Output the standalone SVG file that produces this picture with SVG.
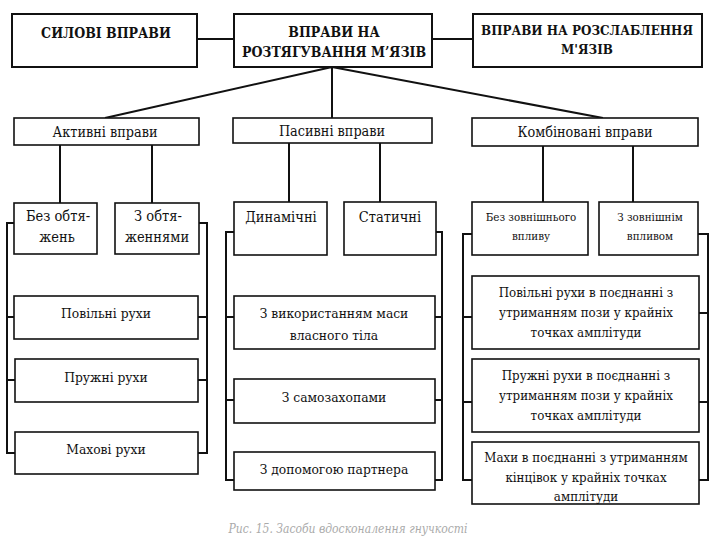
<svg xmlns="http://www.w3.org/2000/svg" width="720" height="540" viewBox="0 0 720 540">
<style>
.bx{fill:#fff;stroke:#111;stroke-width:1.6}
.tb{fill:#fff;stroke:#111;stroke-width:2}
.ln{fill:none;stroke:#111;stroke-width:2}
text{font-family:"DejaVu Serif Condensed","DejaVu Serif",serif;font-stretch:condensed;fill:#111;text-anchor:middle}
.h{font-weight:bold;font-size:14px}
.h2{font-weight:bold;font-size:13.3px}
.m{font-size:14.3px}
.p{font-size:13.7px}
.s{font-size:14.5px}
.k{font-size:13.2px}
.xs{font-size:11.5px}
.c{font-size:12px;font-style:italic;fill:#aaa}
</style>
<rect width="720" height="540" fill="#fff"/>
<g id="connectors">
<path class="ln" d="M197,39 H234 M432,39 H473"/>
<path class="ln" d="M332,67 L105,118 M332,67 V118 M332,67 L603,118"/>
<path class="ln" d="M60,145 V203 M152,145 V203 M289,143 V202 M380,143 V202 M543,146 V202 M633,146 V202"/>
<path class="ln" d="M14,223 H7 V453 H15 M7,317 H14 M7,380 H15"/>
<path class="ln" d="M199,223 H207 V453 H198 M207,317 H198 M207,380 H198"/>
<path class="ln" d="M234,232 H226 V480 H234 M226,317 H234 M226,400 H234"/>
<path class="ln" d="M436,232 H442 V480 H435 M442,317 H435 M442,400 H435"/>
<path class="ln" d="M472,234 H463 V480 H472 M463,317 H472 M463,402 H472"/>
<path class="ln" d="M698,234 H708 V480 H699 M708,313 H699 M708,402 H699"/>
</g>
<g id="n-sylovi"><rect class="tb" x="12" y="14" width="185" height="53"/><text class="h" x="106" y="38">СИЛОВІ ВПРАВИ</text></g>
<g id="n-roztiag"><rect class="tb" x="234" y="14" width="198" height="53"/><text class="h" x="334" y="37">ВПРАВИ НА</text><text class="h" x="334" y="57">РОЗТЯГУВАННЯ М’ЯЗІВ</text></g>
<g id="n-rozslab"><rect class="tb" x="473" y="14" width="229" height="53"/><text class="h2" x="587" y="35">ВПРАВИ НА РОЗСЛАБЛЕННЯ</text><text class="h2" x="587" y="54">М'ЯЗІВ</text></g>
<g id="n-aktyvni"><rect class="bx" x="14" y="118" width="185" height="27"/><text class="m" x="105" y="137">Активні вправи</text></g>
<g id="n-pasyvni"><rect class="bx" x="233" y="118" width="199" height="25"/><text class="m" x="332" y="136">Пасивні вправи</text></g>
<g id="n-kombin"><rect class="bx" x="472" y="118" width="226" height="28"/><text class="m" x="585" y="137">Комбіновані вправи</text></g>
<g id="n-bez-obt"><rect class="bx" x="14" y="203" width="83" height="51"/><text class="s" x="58" y="221">Без обтя-</text><text class="s" x="57" y="242">жень</text></g>
<g id="n-z-obt"><rect class="bx" x="115" y="203" width="84" height="51"/><text class="s" x="158" y="221">З обтя-</text><text class="s" x="157" y="242">женнями</text></g>
<g id="n-dynam"><rect class="bx" x="234" y="202" width="93" height="53"/><text class="s" x="281" y="222">Динамічні</text></g>
<g id="n-static"><rect class="bx" x="344" y="202" width="92" height="53"/><text class="s" x="390" y="222">Статичні</text></g>
<g id="n-bez-zovn"><rect class="bx" x="472" y="202" width="116" height="53"/><text class="xs" x="531" y="221">Без зовнішнього</text><text class="xs" x="531" y="240">впливу</text></g>
<g id="n-z-zovn"><rect class="bx" x="599" y="202" width="99" height="53"/><text class="xs" x="650" y="221">З зовнішнім</text><text class="xs" x="650" y="240">впливом</text></g>
<g id="n-povilni"><rect class="bx" x="14" y="296" width="184" height="43"/><text class="p" x="106" y="318">Повільні рухи</text></g>
<g id="n-pruzhni"><rect class="bx" x="15" y="359" width="183" height="43"/><text class="p" x="106" y="382">Пружні рухи</text></g>
<g id="n-makhovi"><rect class="bx" x="15" y="432" width="183" height="42"/><text class="p" x="106" y="454">Махові рухи</text></g>
<g id="n-masa"><rect class="bx" x="234" y="296" width="201" height="53"/><text class="p" x="334" y="318">З використанням маси</text><text class="p" x="334" y="340">власного тіла</text></g>
<g id="n-samozakh"><rect class="bx" x="234" y="379" width="201" height="44"/><text class="p" x="334" y="402">З самозахопами</text></g>
<g id="n-partner"><rect class="bx" x="234" y="452" width="201" height="38"/><text class="p" x="334" y="474">З допомогою партнера</text></g>
<g id="n-povilni-k"><rect class="bx" x="472" y="276" width="227" height="73"/><text class="k" x="586" y="297">Повільні рухи в поєднанні з</text><text class="k" x="586" y="317">утриманням пози у крайніх</text><text class="k" x="586" y="337">точках амплітуди</text></g>
<g id="n-pruzhni-k"><rect class="bx" x="472" y="359" width="227" height="73"/><text class="k" x="586" y="380">Пружні рухи в поєднанні з</text><text class="k" x="586" y="400">утриманням пози у крайніх</text><text class="k" x="586" y="420">точках амплітуди</text></g>
<g id="n-makhy-k"><rect class="bx" x="472" y="442" width="227" height="62"/><text class="k" x="586" y="462">Махи в поєднанні з утриманням</text><text class="k" x="586" y="482">кінцівок у крайніх точках</text><text class="k" x="586" y="501">амплітуди</text></g>
<text class="c" x="348" y="533">Рис. 15. Засоби вдосконалення гнучкості</text>
</svg>
